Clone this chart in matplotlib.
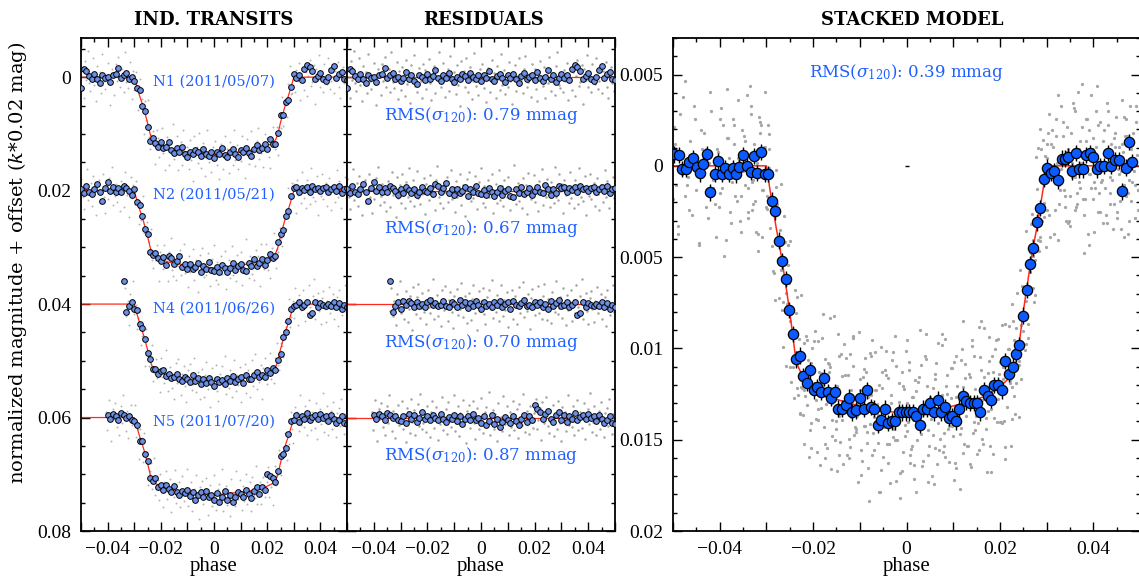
import numpy as np
import matplotlib
matplotlib.use('Agg')
import matplotlib.pyplot as plt
from matplotlib.ticker import MultipleLocator, FuncFormatter, FixedLocator, FixedFormatter

# ---------------- transit model (half curve, symmetric in phase) ----------------
model_half_phase = [0.0, 0.0050, 0.0093, 0.0136, 0.0171, 0.0200, 0.0221, 0.0232, 0.0239,
                    0.0244, 0.0250, 0.0257, 0.0264, 0.0271, 0.0279, 0.0286, 0.0293, 0.0300, 0.0500]
model_half_depth = [0.0136, 0.0134, 0.0132, 0.0129, 0.0126, 0.0121, 0.0116, 0.0110, 0.0102,
                    0.0092, 0.0080, 0.0068, 0.0056, 0.0045, 0.0034, 0.0023, 0.0012, 0.0, 0.0]

# ---------------- individual nights ----------------
night_labels = ['N1 (2011/05/07)', 'N2 (2011/05/21)', 'N4 (2011/06/26)', 'N5 (2011/07/20)']
night_offsets = [0.0, 0.02, 0.04, 0.06]
night_rms = ['0.79', '0.67', '0.70', '0.87']
bin_start = [-0.050, -0.050, -0.034, -0.040]
bin_step = 0.001
grey_start = [-0.0500, -0.04985, -0.0339, -0.04065]
grey_step = 0.0005
bin_unit = 1e-4      # binned residual lists are in units of 0.1 mmag
grey_unit = 1.5e-4   # unbinned residual lists are in units of 0.15 mmag

# binned residuals
bin_res_n1 = [19, -15, -11, -2, 3, -6, 4, 10, -3, 1,
              -1, 8, -4, -5, -17, 2, -3, -8, 3, -1,
              6, 2, -9, 4, -3, 7, 12, -4, 0, 5,
              -6, 3, -2, -12, 1, 6, -3, 2, -7, 4,
              9, -1, 3, -5, -2, 5, -8, 0, 4, -3,
              6, -4, 1, -10, 3, 7, -2, -6, 2, 8,
              -3, 1, -5, 4, 10, -2, -7, 3, 0, -4,
              5, -9, 2, 6, -1, -13, 4, -3, 8, 1,
              -6, 2, -4, 5, -15, -22, -18, -10, 3, -2,
              -8, 4, 6, -1, -12, -20, 2, -5, -9, 3, 5]
bin_res_n2 = [-3, 5, -8, 2, 6, -2, -12, 3, 18, -4,
              -15, 0, -6, 3, -5, 2, -9, -4, 1, 7,
              -2, 4, -7, -1, 5, -3, 8, 2, -6, 0,
              3, -5, 6, -11, -8, 2, -4, -14, 4, -2,
              7, -3, 5, 1, -6, 9, -2, 3, -9, 4,
              6, -1, 8, -4, 2, 10, 3, -5, 7, 0,
              -3, 9, 11, -2, 4, -7, 6, 2, -4, 8,
              1, -6, 3, 5, -10, -3, 7, -2, 4, -8,
              -4, -7, 2, -5, -1, -6, 3, -9, -2, -5,
              1, -4, -7, 2, -3, -6, 0, -8, 4, -2, -5]
bin_res_n4 = [-41, 14, 4, -3, 8, -6, 2, -5, -2, 6,
              -4, 3, -1, 5, -3, -7, 2, -2, 4, 1,
              -6, 3, 6, -3, 0, 5, -8, 2, -4, 7,
              -2, 4, -5, 1, 9, -3, 3, -1, 6, -4,
              2, -6, 5, 0, -3, 8, -5, 2, 4, -2,
              -7, 3, 1, 6, -4, 2, -3, 5, -1, 8,
              -5, 3, -2, -8, 4, 1, -3, 6, 2, -4,
              20, 16, -3, 5, -2, 1, 4, -1, 3, -4,
              6, -2, 8, 2, 5]
bin_res_n5 = [-4, 2, -6, -3, 5, -8, -5, 1, -2, 4,
              6, -3, 9, -6, 2, -4, 7, 1, -9, 3,
              -2, 5, -5, 0, 4, -7, 3, 8, -1, 2,
              -4, 6, -2, 12, 3, -3, 5, -6, 4, 1,
              9, -2, 14, 6, -5, 11, 3, 16, 7, -1,
              4, 10, -3, 6, 13, 2, -4, 8, -2, 5,
              -22, -15, -9, 3, -6, -12, 2, 8, -4, -10,
              4, -5, 7, -3, 2, -8, 5, -1, -4, 3,
              -6, 1, -2, 6, -5, 2, 10, 4, -3, 9, 12]

# unbinned residuals
grey_res_n1 = [12, -8, 25, -19, 3, -31, 7, 16, -4, -22, 9, 28, -13, 1, -6, 19, -27, 5, 14, -2,
               -17, 8, 33, -10, -3, 21, -15, 4, -24, 11, 2, -9, 17, -29, 6, 13, -1, -18, 26, -7,
               15, -12, 0, 22, -20, 8, -5, 30, -14, 3, -26, 10, 18, -3, -11, 5, 24, -16, -8, 14,
               1, -21, 7, 27, -4, -13, 19, -9, 2, -30, 11, 6, -17, 23, -2, -10, 16, -25, 8, 4,
               -6, 20, -14, 9, 34, -19, 3, -7, 12, -23, 17, -1, -12, 26, 5, -28, 10, -4, 21, -9,
               6, -16, 13, -2, 29, -11, 0, 18, -20, 7, -5, 24, -13, 2, 15, -27, 9, -8, 20, -3,
               11, -18, 4, 31, -6, -14, 16, -1, -22, 8, 3, 19, -10, -25, 12, 6, -4, 23, -15, 1,
               -9, 14, 28, -7, -19, 5, 10, -12, 25, -2, 7, -24, 16, -5, 2, 21, -13, -30, 9, 13,
               -3, 18, -8, 4, -17, 27, 1, -11, 15, -6, 22, -1, -20, 10, 6, -14, 32, -9, 3, -26,
               12, -4, 17, -16, 0, 8, -23, 14, 5, -10, 19, -7, 2, -18, 11, 25, -3, -12, 7, 16, -21]
grey_res_n2 = [-14, 7, 22, -3, -25, 11, 4, -9, 18, -17, 2, 29, -6, -12, 15, -1, -20, 8, 26, -5,
               10, -15, 3, -28, 17, 6, -8, 13, -2, 24, -11, 1, 19, -22, 5, -4, 31, -16, 9, -7,
               14, -19, 0, 21, -10, 7, -26, 12, 3, -13, 18, -2, -23, 9, 16, -6, 4, -15, 27, -8,
               1, 11, -18, 6, -3, 23, -12, -29, 8, 15, -5, 20, -9, 2, -16, 13, 5, -24, 10, -1,
               25, -11, 7, -4, -20, 17, -7, 3, 30, -14, 6, -22, 12, -3, 9, -17, 1, 22, -10, 4,
               -27, 15, -6, 19, 2, -13, 8, -1, -19, 26, 3, -8, 14, -24, 11, -5, 18, -12, 0, 7,
               -16, 23, -2, 9, -30, 5, 16, -9, 12, -4, 20, -15, 1, -7, 28, -21, 6, 10, -3, -18,
               13, -6, 24, -11, 2, -25, 17, -1, 8, -14, 4, 19, -10, -3, 15, -28, 7, 11, -19, 1,
               -8, 26, -13, 5, -1, 14, -22, 9, -5, 21, -12, 3, 16, -27, 8, -4, 12, -17, 29, -2,
               6, -20, 10, 1, -9, 18, -15, 4, 23, -7, -3, 13, -24, 7, -11, 20, -6, 2, -16, 9, 15]
grey_res_n4 = [8, -19, 14, -4, 25, -12, 3, -27, 10, -6, 17, -1, -15, 21, 6, -9, 30, -20, 2, 12,
               -8, -24, 16, 5, -13, 9, -2, 23, -17, 4, 11, -7, -29, 18, 1, -11, 14, -3, 26, -16,
               7, -21, 3, 20, -5, -14, 9, 28, -10, 0, -18, 13, 6, -25, 15, -2, -9, 22, 4, -13,
               19, -6, -22, 10, 2, 31, -15, 8, -4, -19, 12, 24, -8, 1, -17, 6, -28, 16, -1, 9,
               -11, 20, 3, -23, 14, -5, 7, -14, 27, -3, 5, -16, 18, -9, -1, 23, -20, 11, 2, -26,
               15, -4, 8, -12, 29, -7, -18, 4, 13, -2, -21, 10, 1, 17, -10, -24, 6, 19, -6, 3,
               22, -14, -3, 9, -27, 12, 5, -8, 16, -19, 0, 25, -11, 7, -2, -16, 20, -5, 11, -23,
               4, 14, -9, -30, 18, 2, -13, 8, 24, -7, -15, 6, 21, -4, -20, 10, 1, -12, 17, 3,
               -8, 26, -17, 5, 13, -1, -22, 9, -10]
grey_res_n5 = [-6, 15, -21, 4, 27, -10, 2, -17, 11, -3, 20, -13, 7, -26, 1, 16, -8, 24, -4, -15,
               9, 3, -19, 13, -1, 29, -11, -6, 18, -22, 5, -9, 21, -2, -16, 10, -28, 14, 6, -5,
               17, -14, 0, 23, -7, -20, 12, 3, -12, 26, -3, 8, -24, 15, 1, -10, 19, -18, 4, 11,
               -1, -27, 16, 7, -13, 22, -5, 9, -21, 2, 30, -8, -15, 12, 4, -19, 6, 25, -11, -2,
               14, -23, 3, 18, -6, -12, 10, -30, 20, 1, -9, 13, -4, 27, -17, 5, -1, 16, -25, 8,
               2, -14, 21, -7, 11, -20, 15, -3, -10, 24, -16, 6, 9, -28, 17, 0, -8, 19, -13, 4,
               12, -5, -22, 14, 3, -11, 26, -18, 7, -1, -24, 10, 18, -9, 1, -15, 22, -4, 13, -19,
               6, 28, -12, 2, -7, 16, -26, 9, -2, 11, -14, 20, 4, -21, 15, -6, -1, 12, -17, 25,
               3, -10, 8, -29, 17, 5, -13, 21, -3, -8, 14, -18, 1, 23, -5, -11, 10, -22, 6, 19,
               -4, 9, -16]

bin_res = [bin_res_n1, bin_res_n2, bin_res_n4, bin_res_n5]
grey_res = [grey_res_n1, grey_res_n2, grey_res_n4, grey_res_n5]

# ---------------- stacked binned light curve ----------------
stack_phase = [-0.0497, -0.0487, -0.0480, -0.0473, -0.0465, -0.0457, -0.0449, -0.0442, -0.0435, -0.0427,
               -0.0420, -0.0411, -0.0403, -0.0396, -0.0388, -0.0380, -0.0372, -0.0365, -0.0358, -0.0350,
               -0.0342, -0.0334, -0.0327, -0.0320, -0.0311, -0.0304, -0.0296,
               -0.0289, -0.0282, -0.0274, -0.0266, -0.0259, -0.0251, -0.0244, -0.0237, -0.0229, -0.0221,
               -0.0214, -0.0206, -0.0199, -0.0191, -0.0184, -0.0176, -0.0169, -0.0161, -0.0153, -0.0146,
               -0.0138, -0.0130, -0.0123, -0.0116, -0.0108, -0.0100, -0.0092, -0.0085, -0.0077, -0.0070,
               -0.0062, -0.0054, -0.0046, -0.0039, -0.0031, -0.0024, -0.0017, -0.0009, -0.0001, 0.0006,
               0.0014, 0.0021, 0.0029, 0.0036, 0.0044, 0.0051, 0.0059, 0.0067, 0.0074, 0.0082,
               0.0090, 0.0097, 0.0105, 0.0113, 0.0121, 0.0128, 0.0136, 0.0144, 0.0151, 0.0158,
               0.0166, 0.0174, 0.0181, 0.0188, 0.0195, 0.0204, 0.0211, 0.0219, 0.0227, 0.0234,
               0.0241, 0.0250, 0.0257, 0.0264, 0.0271, 0.0279, 0.0286, 0.0294, 0.0301, 0.0309,
               0.0316, 0.0325, 0.0332, 0.0339, 0.0346, 0.0354, 0.0362, 0.0370, 0.0377, 0.0385,
               0.0392, 0.0400, 0.0408, 0.0415, 0.0423, 0.0431, 0.0438, 0.0446, 0.0454, 0.0461,
               0.0469, 0.0476, 0.0482]
stack_mag = [-0.00063, -0.00059, 0.00016, 0.00018, -0.00019, -0.00044, 0.00009, 0.00042, -0.00008, -0.00064,
             0.00146, 0.00044, -0.00024, 0.00044, 0.00011, 0.00044, 0.00011, 0.00047, 0.00005, -0.00059,
             0.00002, 0.00033, -0.00055, 0.00038, -0.00075, 0.00044, 0.00044,
             0.0019, 0.0025, 0.0041, 0.0052, 0.0062, 0.0079, 0.0092, 0.0106, 0.0104, 0.0115,
             0.0119, 0.0112, 0.0123, 0.0121, 0.0124, 0.0116, 0.0124, 0.0127, 0.0124, 0.0133,
             0.0133, 0.0131, 0.0127, 0.0135, 0.0134, 0.0127, 0.0133, 0.0123, 0.0132, 0.0133,
             0.0142, 0.0139, 0.0133, 0.0141, 0.0140, 0.0140, 0.0135, 0.0135, 0.0135, 0.0135,
             0.0135, 0.0137, 0.0142, 0.0133, 0.0133, 0.0130, 0.0135, 0.0128, 0.0135, 0.0132,
             0.0138, 0.0137, 0.0140, 0.0133, 0.0126, 0.0129, 0.0130, 0.0130, 0.0130, 0.0135,
             0.0123, 0.0126, 0.0128, 0.0120, 0.0120, 0.0123, 0.0107, 0.0114, 0.0110, 0.0103,
             0.0098, 0.0082, 0.0068, 0.0054, 0.0045, 0.0031, 0.0023, 0.0007, 0.0001, 0.0004,
             0.0003, 0.0008, -0.0004, -0.0004, -0.0005, 0.0003, -0.0007, 0.0002, 0.0002, -0.0006,
             -0.0007, -0.0005, 0.0002, 0.0000, 0.0000, -0.0007, 0.0000, -0.0003, -0.0003, 0.0014,
             0.0001, -0.0013, -0.0002]
stack_err = 0.00045
stack_rms = '0.39'

# ---------------- helpers ----------------
mh_p = np.array(model_half_phase)
mh_d = np.array(model_half_depth)
line_phase = np.concatenate([-mh_p[::-1], mh_p[1:]])
line_depth = np.concatenate([mh_d[::-1], mh_d[1:]])


def model(ph):
    return np.interp(np.abs(ph), mh_p, mh_d)


BLUE_TXT = '#1f5fff'
BLUE_S = '#6b8fe6'
BLUE_L = '#0a5aff'
RED = '#ff2a1a'

plt.rcParams['font.family'] = ['Liberation Serif', 'DejaVu Serif']
plt.rcParams['mathtext.fontset'] = 'dejavuserif'

W, H = 1139, 577
fig = plt.figure(figsize=(W / 100, H / 100), dpi=100)


def fx(px):
    return px / W


def fy(py):
    return 1 - py / H


axL = fig.add_axes([fx(81), fy(531), fx(266), 493 / H])
axM = fig.add_axes([fx(347), fy(531), fx(268), 493 / H])
axR = fig.add_axes([fx(673), fy(531), fx(467), 493 / H])


def xfmt(v, pos):
    k = int(round(v * 100))
    if k % 2 != 0:
        return ''
    if k == 0:
        return '0'
    return ('\u2212' if k < 0 else '') + '0.0%d' % abs(k)


for ax in (axL, axM, axR):
    ax.set_xlim(-0.05, 0.05)
    ax.xaxis.set_major_locator(MultipleLocator(0.01))
    ax.xaxis.set_minor_locator(MultipleLocator(0.005))
    ax.xaxis.set_major_formatter(FuncFormatter(xfmt))
    ax.tick_params(which='both', direction='in', top=True, right=True, width=1.0,
                   labelsize=14, pad=7)
    ax.tick_params(which='major', length=6.5)
    ax.tick_params(which='minor', length=3.2)
    for s in ax.spines.values():
        s.set_linewidth(1.3)

for ax in (axL, axM):
    ax.set_ylim(0.08, -0.0069)
    ax.yaxis.set_major_locator(FixedLocator([0.0, 0.02, 0.04, 0.06, 0.08]))
    ax.yaxis.set_minor_locator(MultipleLocator(0.005))
axL.yaxis.set_major_formatter(FixedFormatter(['0', '0.02', '0.04', '0.06', '0.08']))
axM.yaxis.set_major_formatter(FixedFormatter(['', '', '', '', '']))

axR.set_ylim(0.02, -0.0070)
axR.yaxis.set_major_locator(FixedLocator([-0.005, 0.0, 0.005, 0.01, 0.015, 0.02]))
axR.yaxis.set_major_formatter(FixedFormatter(['0.005', '0', '0.005', '0.01', '0.015', '0.02']))
axR.yaxis.set_minor_locator(MultipleLocator(0.001))

all_gp, all_gm = [], []
for i in range(4):
    off = night_offsets[i]
    bp = bin_start[i] + bin_step * np.arange(len(bin_res[i]))
    br = np.array(bin_res[i]) * bin_unit
    gp = grey_start[i] + grey_step * np.arange(len(grey_res[i]))
    gr = np.array(grey_res[i]) * grey_unit
    # left: data = model + residual
    axL.scatter(gp, off + model(gp) + gr, s=2.0, c='#b4b4b4', linewidths=0, zorder=1)
    axL.plot(line_phase, off + line_depth, color=RED, lw=0.9, zorder=2)
    axL.plot(bp, off + model(bp) + br, 'o', ms=4.1, mfc=BLUE_S, mec='black', mew=0.7, zorder=3)
    axL.text(0.0, off + 0.0008, night_labels[i], color=BLUE_TXT, fontsize=10.5,
             family='DejaVu Serif', ha='center', va='center', zorder=4)
    # middle: residuals
    axM.scatter(gp, off + gr, s=3.2, c='#a4a4a4', linewidths=0, zorder=1)
    axM.plot([-0.05, 0.05], [off, off], color=RED, lw=0.9, zorder=2)
    axM.plot(bp, off + br, 'o', ms=4.1, mfc=BLUE_S, mec='black', mew=0.7, zorder=3)
    axM.text(0.0, off + 0.0067, r'RMS($\sigma_{120}$): %s mmag' % night_rms[i], color=BLUE_TXT,
             fontsize=12, family='DejaVu Serif', ha='center', va='center', zorder=4)
    all_gp.append(gp)
    all_gm.append(model(gp) + gr)

gp_all = np.concatenate(all_gp)
gm_all = np.concatenate(all_gm)
axR.scatter(gp_all, gm_all, s=5.5, c='#a6a6a6', linewidths=0, zorder=1)
axR.plot(line_phase, line_depth, color=RED, lw=1.1, zorder=2)
axR.errorbar(stack_phase, stack_mag, yerr=stack_err, fmt='none', ecolor='black', elinewidth=1.0,
             capsize=0, zorder=3)
axR.plot(stack_phase, stack_mag, 'o', ms=7.4, mfc=BLUE_L, mec='black', mew=0.9, zorder=4)
axR.plot([0.0], [0.0], marker='_', color='black', ms=3, mew=1, zorder=4)
axR.text(0.0, -0.0051, r'RMS($\sigma_{120}$): %s mmag' % stack_rms, color=BLUE_TXT,
         fontsize=12, family='DejaVu Serif', ha='center', va='center', zorder=5)

# titles and axis labels
fig.text(fx(214), fy(20), 'IND. TRANSITS', family='DejaVu Serif', fontweight='bold', fontsize=13,
         ha='center', va='center')
fig.text(fx(483), fy(20), 'RESIDUALS', family='DejaVu Serif', fontweight='bold', fontsize=13,
         ha='center', va='center')
fig.text(fx(912), fy(20), 'STACKED MODEL', family='DejaVu Serif', fontweight='bold', fontsize=13,
         ha='center', va='center')
for cx in (214, 481, 907):
    fig.text(fx(cx), fy(566), 'phase', fontsize=15, ha='center', va='center')
fig.text(fx(18), fy(263), r'normalized magnitude + offset ($k$*0.02 mag)', family='DejaVu Serif',
         fontsize=14.0, rotation=90, ha='center', va='center')

fig.savefig('out.png', dpi=100)
